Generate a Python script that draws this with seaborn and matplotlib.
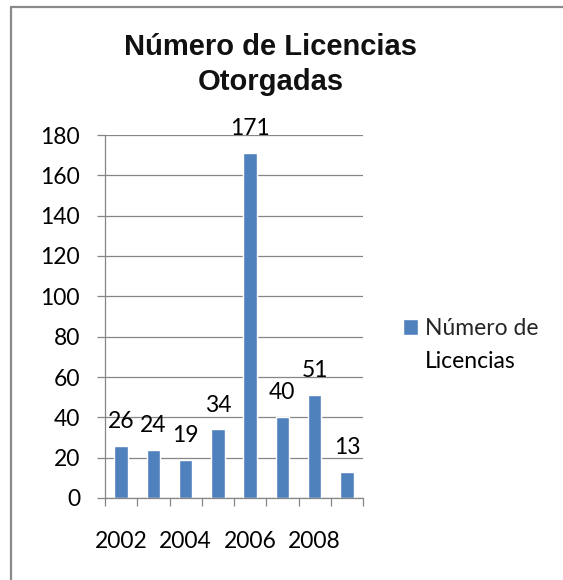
import matplotlib
matplotlib.use("Agg")
import numpy as np
import pandas as pd
import seaborn as sns
import matplotlib.pyplot as plt
from matplotlib.lines import Line2D

# ---- data ----
years = ["2002", "2003", "2004", "2005", "2006", "2007", "2008", "2009"]
licencias = [26, 24, 19, 34, 171, 40, 51, 13]
shown_year_labels = ["2002", "2004", "2006", "2008"]
title_lines = ["Número de Licencias", "Otorgadas"]
series_label_lines = ["Número de", "Licencias"]

df = pd.DataFrame({"year": years, "value": licencias})

sns.set_theme(style="white")
plt.rcParams["font.family"] = ["Lato", "DejaVu Sans"]

W, H = 563, 580
fig = plt.figure(figsize=(W / 100, H / 100), dpi=100)
ax = fig.add_axes([105 / W, 82 / H, 258 / W, 363 / H])

sns.barplot(data=df, x="year", y="value", color="#4F81BD", saturation=1,
            width=0.42, ax=ax, label=series_label_lines[0])

grid_c = "#868686"
ax.set_xlim(-0.5, len(years) - 0.5)
ax.set_ylim(0, 180)
ax.set_yticks(range(0, 181, 20))
ax.yaxis.grid(True, color=grid_c, lw=0.9)
ax.set_axisbelow(True)
for s in ["top", "right"]:
    ax.spines[s].set_visible(False)
for s in ["left", "bottom"]:
    ax.spines[s].set_color(grid_c)
    ax.spines[s].set_linewidth(0.9)
ax.set_xlabel("")
ax.set_ylabel("")

ax.tick_params(axis="y", left=True, length=6, width=0.9, color=grid_c,
               pad=12, labelsize=16.5, labelcolor="black")
# tick marks at category boundaries, labels every other category
bounds = np.arange(-0.5, len(years), 1.0)
ax.set_xticks(bounds)
ax.set_xticklabels([""] * len(bounds))
ax.tick_params(axis="x", which="major", bottom=True, length=6, width=0.9, color=grid_c)
pos = [years.index(y) for y in shown_year_labels]
ax.set_xticks(pos, labels=shown_year_labels, minor=True)
ax.tick_params(axis="x", which="minor", bottom=True, length=0, pad=24,
               labelsize=16.5, labelcolor="black")

for c in ax.containers:
    ax.bar_label(c, fmt="%d", padding=10, fontsize=16.5, color="black")

# title
for txt, yb in zip(title_lines, [55, 90]):
    fig.text(271 / W, 1 - yb / H, txt, ha="center", va="baseline",
             fontsize=21, fontweight="bold", color="#111111",
             family=["Liberation Sans", "DejaVu Sans"])

# legend (first line with the swatch, second line below it)
leg = ax.legend(loc="upper left", bbox_to_anchor=(403 / W, 1 - 318 / H),
                bbox_transform=fig.transFigure, frameon=False, fontsize=16.5,
                handlelength=0.65, handleheight=0.65, handletextpad=0.3,
                borderpad=0, borderaxespad=0)
fig.canvas.draw()
t0 = leg.get_texts()[0]
bb = t0.get_window_extent()
fig.text(bb.x0 / W, 1 - 368 / H, series_label_lines[1], ha="left", va="baseline",
         fontsize=16.5, color="black")

# outer border (top and left visible in the crop)
bc = "#8a8a8a"
fig.add_artist(Line2D([11 / W, 11 / W], [0, 1 - 7 / H], transform=fig.transFigure,
                      color=bc, lw=1.6))
fig.add_artist(Line2D([11 / W, 1], [1 - 7 / H, 1 - 7 / H], transform=fig.transFigure,
                      color=bc, lw=1.6))

fig.savefig("out.png", dpi=100)
